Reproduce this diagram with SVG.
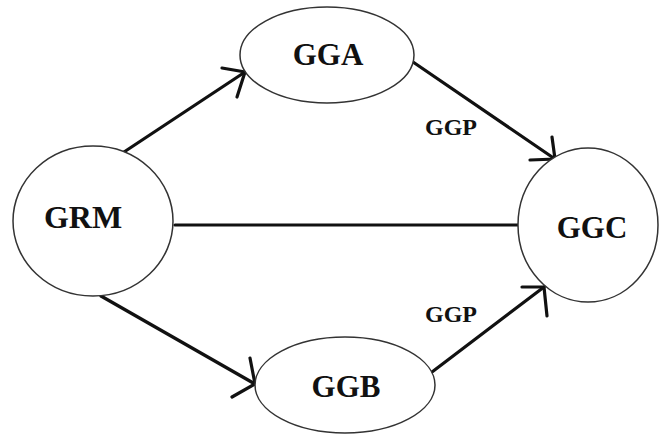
<svg xmlns="http://www.w3.org/2000/svg" width="660" height="438" viewBox="0 0 660 438">
  <style>
    .node { fill: #ffffff; stroke: #333333; stroke-width: 1.5; }
    .label { font-family: "Liberation Serif", "Times New Roman", serif; font-size: 31px; font-weight: bold; fill: #111111; text-anchor: middle; }
    .edge { stroke: #111111; stroke-width: 3.2; fill: none; stroke-linecap: round; }
    .tag { font-family: "Liberation Serif", "Times New Roman", serif; font-size: 24px; font-weight: bold; fill: #111111; text-anchor: middle; }
  </style>
  <rect width="660" height="438" fill="#ffffff"/>

  <g id="connectors">
    <!-- GRM to GGA -->
    <line class="edge" x1="124" y1="152" x2="245" y2="72"/>
    <polyline class="edge" points="222,68 245,72 237,97"/>
    <!-- GGA to GGC -->
    <line class="edge" x1="413" y1="62" x2="555" y2="159"/>
    <polyline class="edge" points="530,160 555,159 552,137"/>
    <!-- GRM to GGC -->
    <line class="edge" x1="175" y1="225" x2="518" y2="225"/>
    <!-- GRM to GGB -->
    <line class="edge" x1="101" y1="296" x2="255" y2="384"/>
    <polyline class="edge" points="250,358 255,384 232,397"/>
    <!-- GGB to GGC -->
    <line class="edge" x1="432" y1="372" x2="544" y2="287"/>
    <polyline class="edge" points="522,287 544,287 547,316"/>
  </g>

  <g id="edge-labels">
    <text class="tag" x="451" y="135">GGP</text>
    <text class="tag" x="451" y="322">GGP</text>
  </g>

  <g id="GRM">
    <ellipse class="node" cx="93" cy="221" rx="80" ry="75"/>
    <text class="label" x="83" y="228" style="font-size:32px">GRM</text>
  </g>
  <g id="GGA">
    <ellipse class="node" cx="327" cy="55" rx="87" ry="48"/>
    <text class="label" x="328" y="65">GGA</text>
  </g>
  <g id="GGC">
    <ellipse class="node" cx="588" cy="225" rx="70" ry="77"/>
    <text class="label" x="592" y="238">GGC</text>
  </g>
  <g id="GGB">
    <ellipse class="node" cx="345" cy="385" rx="90" ry="48"/>
    <text class="label" x="346" y="397">GGB</text>
  </g>
</svg>
